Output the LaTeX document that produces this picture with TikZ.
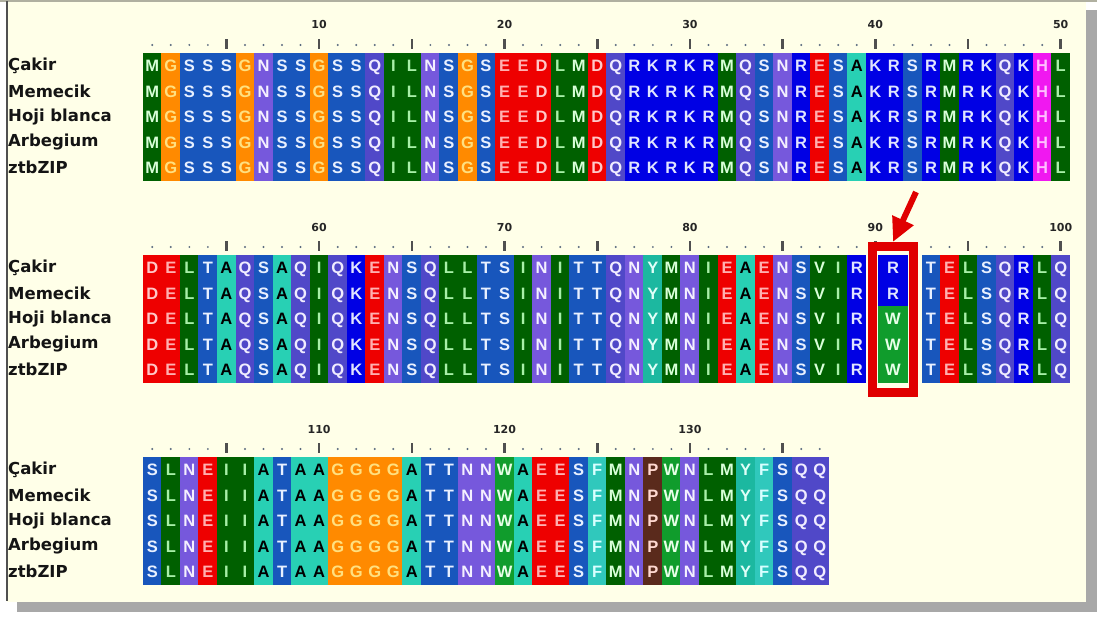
\documentclass[tikz,border=0pt]{standalone}
\usepackage{fontspec}
\setmainfont{DejaVu Sans}
\newfontfamily\cellfont{Liberation Sans}
\usetikzlibrary{arrows.meta}
\definecolor{cream}{HTML}{FFFFE8}
\definecolor{shadowc}{HTML}{A8A8A8}
\definecolor{frameL}{HTML}{505050}
\definecolor{frameT}{HTML}{B0B0A0}
\definecolor{hlred}{HTML}{E00000}
\definecolor{dotc}{HTML}{5A6A80}
\definecolor{tickc}{HTML}{505050}
% residue colours
\definecolor{bgM}{HTML}{006000}\definecolor{fgM}{HTML}{D8FFD8}
\definecolor{bgI}{HTML}{006000}\definecolor{fgI}{HTML}{A8F0A8}
\definecolor{bgL}{HTML}{006000}\definecolor{fgL}{HTML}{A8F0A8}
\definecolor{bgV}{HTML}{006000}\definecolor{fgV}{HTML}{D8FFD8}
\definecolor{bgG}{HTML}{FF8A00}\definecolor{fgG}{HTML}{FFE080}
\definecolor{bgS}{HTML}{1856BC}\definecolor{fgS}{HTML}{E8F0FF}
\definecolor{bgT}{HTML}{1856BC}\definecolor{fgT}{HTML}{E8F0FF}
\definecolor{bgN}{HTML}{7658DC}\definecolor{fgN}{HTML}{F4F0FF}
\definecolor{bgQ}{HTML}{5048C8}\definecolor{fgQ}{HTML}{F0ECFF}
\definecolor{bgE}{HTML}{EE0000}\definecolor{fgE}{HTML}{FFB0B0}
\definecolor{bgD}{HTML}{EE0000}\definecolor{fgD}{HTML}{FFC8C8}
\definecolor{bgR}{HTML}{0000E4}\definecolor{fgR}{HTML}{E0E4FF}
\definecolor{bgK}{HTML}{0000E4}\definecolor{fgK}{HTML}{E0E4FF}
\definecolor{bgA}{HTML}{28D0B4}\definecolor{fgA}{HTML}{000000}
\definecolor{bgH}{HTML}{F018F0}\definecolor{fgH}{HTML}{FFC0FF}
\definecolor{bgY}{HTML}{1CB8A0}\definecolor{fgY}{HTML}{E0FFF8}
\definecolor{bgF}{HTML}{30C8BC}\definecolor{fgF}{HTML}{D8FFFF}
\definecolor{bgW}{HTML}{109C2C}\definecolor{fgW}{HTML}{E8FFE8}
\definecolor{bgP}{HTML}{5A2A1C}\definecolor{fgP}{HTML}{FFD8D0}
\tikzset{
  cell/.style={inner sep=0pt, minimum width=18.9pt, minimum height=25.9pt,
    text height=11.8pt, text depth=0pt, font=\cellfont\fontsize{16.5}{16.5}\selectfont\bfseries},
  rowlab/.style={anchor=west, inner sep=0pt, text=black!92,
    font=\fontsize{16.5}{16.5}\selectfont\bfseries},
  rulenum/.style={inner sep=0pt, text=black!85, font=\fontsize{11}{11}\selectfont\bfseries},
}
\newcommand\alnblock[5]{%
  \foreach \c in {1,...,#4} {
    \pgfmathsetmacro\xc{143+(\c-0.5)*18.54}
    \pgfmathtruncatemacro\num{#3+\c-1}
    \pgfmathtruncatemacro\mf{mod(\num,5)}
    \pgfmathtruncatemacro\mt{mod(\num,10)}
    \ifnum\mf=0
      \fill[tickc] (\xc-1.3,#2-14) rectangle (\xc+1.3,#2-4);
    \else
      \fill[dotc] (\xc,#2-8) circle (1.1);
    \fi
    \ifnum\mt=0
      \node[rulenum] (#1-n\num) at (\xc,#2-28) {\num};
    \fi
  }
  \foreach \res [count=\c] in {#5} {
    \if\res-\else
      \foreach \r in {1,...,5} {
        \node[cell,fill=bg\res,text=fg\res] (#1-\r-\c) at ({143+(\c-0.5)*18.54},{#2+(\r-0.5)*25.5}) {\res};
      }
    \fi
  }
  \foreach \r/\nm in {1/Çakir,2/Memecik,3/Hoji blanca,4/Arbegium,5/ztbZIP} {
    \node[rowlab] (#1-lab\r) at (8,{#2+(\r-0.5)*25.5}) {\nm};
  }
}
\begin{document}
\begin{tikzpicture}[x=1pt,y=-1pt]
\useasboundingbox (0,0) rectangle (1097,617);
\fill[white] (0,0) rectangle (1097,617);
\fill[shadowc] (1086,10) rectangle (1097,612);
\fill[shadowc] (17,602) rectangle (1097,612);
\fill[cream] (7,1) rectangle (1086,602);
\draw[frameT, line width=2.5pt] (0,1) -- (1097,1);
\draw[frameL, line width=2pt] (7,1) -- (7,601);

\alnblock{a}{53}{1}{50}{M,G,S,S,S,G,N,S,S,G,S,S,Q,I,L,N,S,G,S,E,E,D,L,M,D,Q,R,K,R,K,R,M,Q,S,N,R,E,S,A,K,R,S,R,M,R,K,Q,K,H,L}
\alnblock{b}{255}{51}{50}{D,E,L,T,A,Q,S,A,Q,I,Q,K,E,N,S,Q,L,L,T,S,I,N,I,T,T,Q,N,Y,M,N,I,E,A,E,N,S,V,I,R,-,-,-,T,E,L,S,Q,R,L,Q}
\alnblock{c}{457}{101}{37}{S,L,N,E,I,I,A,T,A,A,G,G,G,G,A,T,T,N,N,W,A,E,E,S,F,M,N,P,W,N,L,M,Y,F,S,Q,Q}

% variable column 91
\foreach \r/\res in {1/R,2/R,3/W,4/W,5/W} {
  \node[cell,fill=bg\res,text=fg\res,minimum width=30pt] (b-\r-41) at ({893},{255+(\r-0.5)*25.5}) {\res};
}

% highlight box and arrow
\node[draw=hlred, line width=9pt, minimum width=41pt, minimum height=146pt, inner sep=0pt] (hl) at (893,319.5) {};
\coordinate (arrtail) at (916,192);
\coordinate (arrtip) at (893,242);
\draw[hlred, line width=6pt, -{Triangle[length=24pt,width=22pt]}] (arrtail) -- (arrtip);
\end{tikzpicture}
\end{document}
